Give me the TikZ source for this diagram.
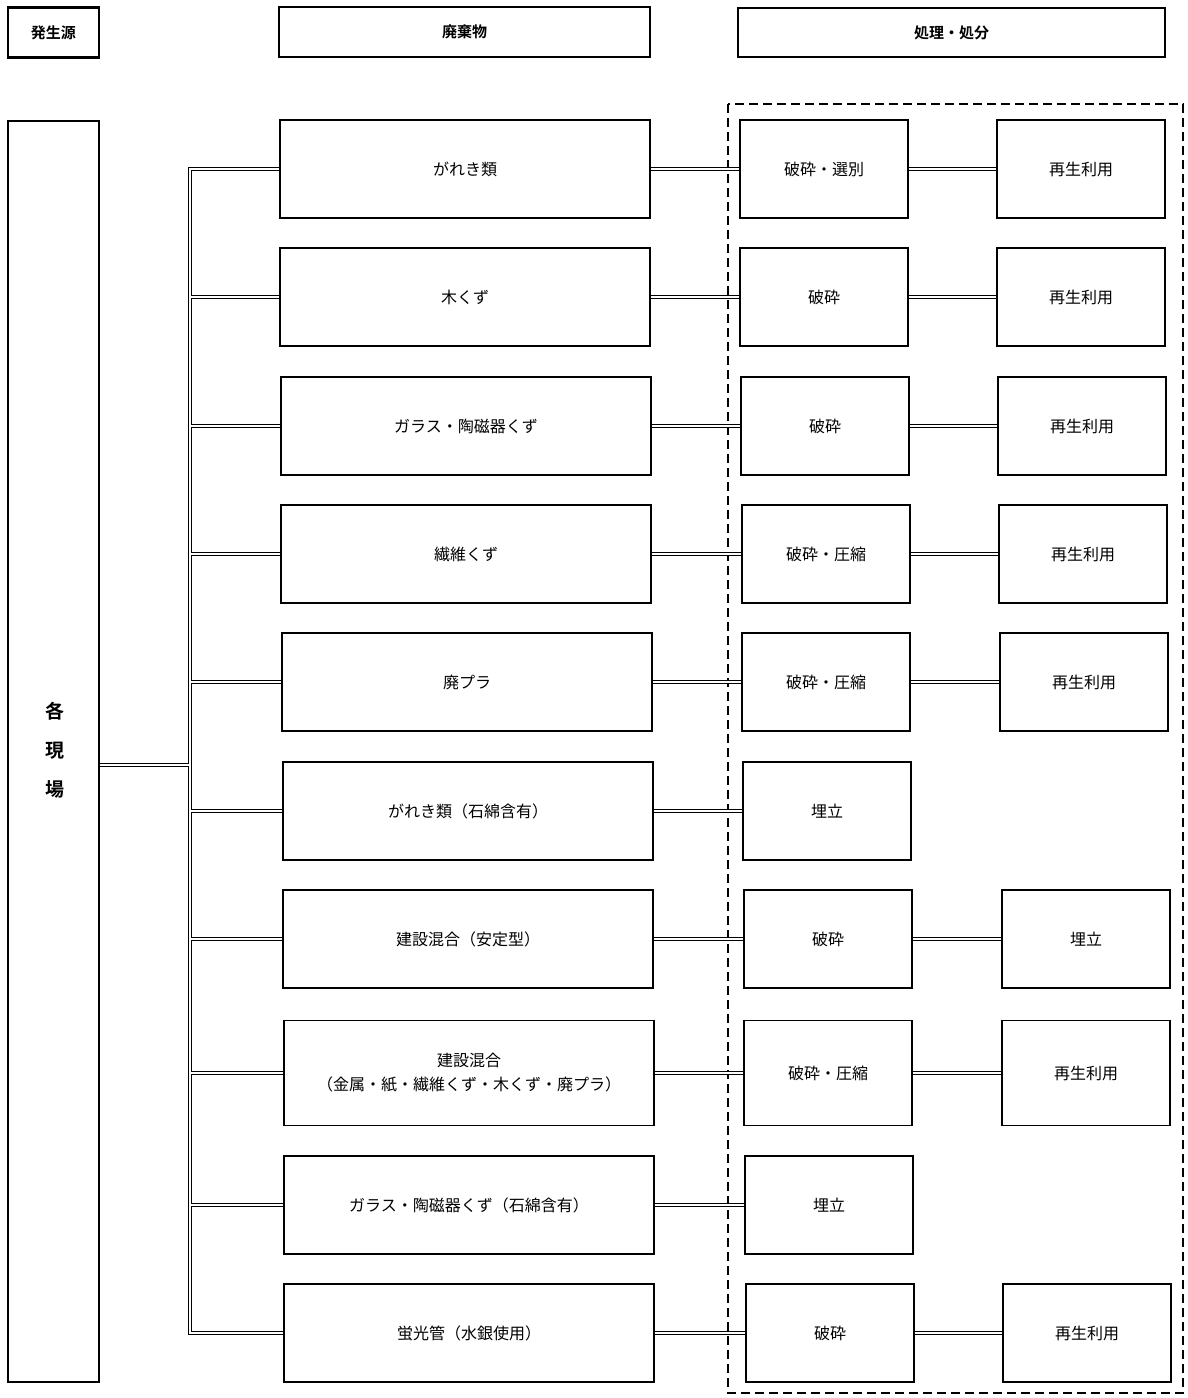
\documentclass[tikz,border=0pt]{standalone}
\usepackage{fontspec}
\newfontfamily\cjk{Noto Sans CJK JP}
\newfontfamily\cjkb{Noto Sans CJK JP Bold}
\begin{document}
\begin{tikzpicture}[x=0.5pt,y=-0.5pt,
  box/.style={draw,line width=0.9pt,inner sep=0pt,align=center,font=\cjk\fontsize{8}{12}\selectfont},
  hdr/.style={draw,line width=1.4pt,inner sep=0pt,font=\cjkb\fontsize{7.5}{9}\selectfont},
  wbox/.style={box,minimum width=185pt,minimum height=49pt},
  pbox/.style={box,minimum width=84pt,minimum height=49pt},
  tall/.style={minimum height=52.5pt},
  dbl/.style={double,double distance=1pt,line width=0.5pt}]
\useasboundingbox[fill=white] (0,0) rectangle (1188,1398);
% headers
\node[hdr,minimum width=45.5pt,minimum height=25pt] (h1) at (53.5,32.5) {発生源};
\node[hdr,minimum width=185.5pt,minimum height=25pt] (h2) at (464.5,32) {廃棄物};
\node[hdr,minimum width=213.5pt,minimum height=24.5pt] (h3) at (951.5,32.5) {処理・処分};
% source
\node[draw,line width=0.9pt,minimum width=45.5pt,minimum height=630.5pt,inner sep=0pt] (gen) at (53.5,751.5) {};
\node[font=\cjkb\fontsize{9.5}{19.5}\selectfont,align=center,inner sep=0pt] (genlab) at (55,750) {各\\現\\場};
% dashed region
\draw[line width=1.3pt,dash pattern=on 4.5pt off 2.5pt] (728,104) rectangle (1183,1393);
% waste
\node[wbox] (w1) at (465,169) {がれき類};
\node[wbox] (w2) at (465,297) {木くず};
\node[wbox] (w3) at (466,426) {ガラス・陶磁器くず};
\node[wbox] (w4) at (466,554) {繊維くず};
\node[wbox] (w5) at (467,682) {廃プラ};
\node[wbox] (w6) at (468,811) {がれき類（石綿含有）};
\node[wbox] (w7) at (468,939) {建設混合（安定型）};
\node[wbox,tall] (w8) at (469,1073) {建設混合\\（金属・紙・繊維くず・木くず・廃プラ）};
\node[wbox] (w9) at (469,1205) {ガラス・陶磁器くず（石綿含有）};
\node[wbox] (w10) at (469,1333) {蛍光管（水銀使用）};
% processing
\node[pbox] (p1) at (824,169) {破砕・選別};
\node[pbox] (p2) at (824,297) {破砕};
\node[pbox] (p3) at (825,426) {破砕};
\node[pbox] (p4) at (826,554) {破砕・圧縮};
\node[pbox] (p5) at (826,682) {破砕・圧縮};
\node[pbox] (p6) at (827,811) {埋立};
\node[pbox] (p7) at (828,939) {破砕};
\node[pbox,tall] (p8) at (828,1073) {破砕・圧縮};
\node[pbox] (p9) at (829,1205) {埋立};
\node[pbox] (p10) at (830,1333) {破砕};
% final
\node[pbox] (f1) at (1081,169) {再生利用};
\node[pbox] (f2) at (1081,297) {再生利用};
\node[pbox] (f3) at (1082,426) {再生利用};
\node[pbox] (f4) at (1083,554) {再生利用};
\node[pbox] (f5) at (1084,682) {再生利用};
\node[pbox] (f7) at (1086,939) {埋立};
\node[pbox,tall] (f8) at (1086,1073) {再生利用};
\node[pbox] (f10) at (1087,1333) {再生利用};
% trunk
\coordinate (tm) at (190,765);
\foreach \i/\y in {1/169,2/297,3/426,4/554,5/682,6/811,7/939,8/1073,9/1205,10/1333}
  \coordinate (t\i) at (190,\y);
\draw[dbl] (w1.west) -- (t1) -- (t10) -- (w10.west);
\foreach \i in {2,...,9} \draw[dbl] ([xshift=0.5pt]t\i) -- (w\i.west);
\draw[dbl] (gen.east |- tm) -- ([xshift=-0.6pt]tm);
% row connectors
\foreach \i in {1,...,10} \draw[dbl] (w\i.east) -- (p\i.west);
\foreach \i in {1,2,3,4,5,7,8,10} \draw[dbl] (p\i.east) -- (f\i.west);
\end{tikzpicture}
\end{document}
